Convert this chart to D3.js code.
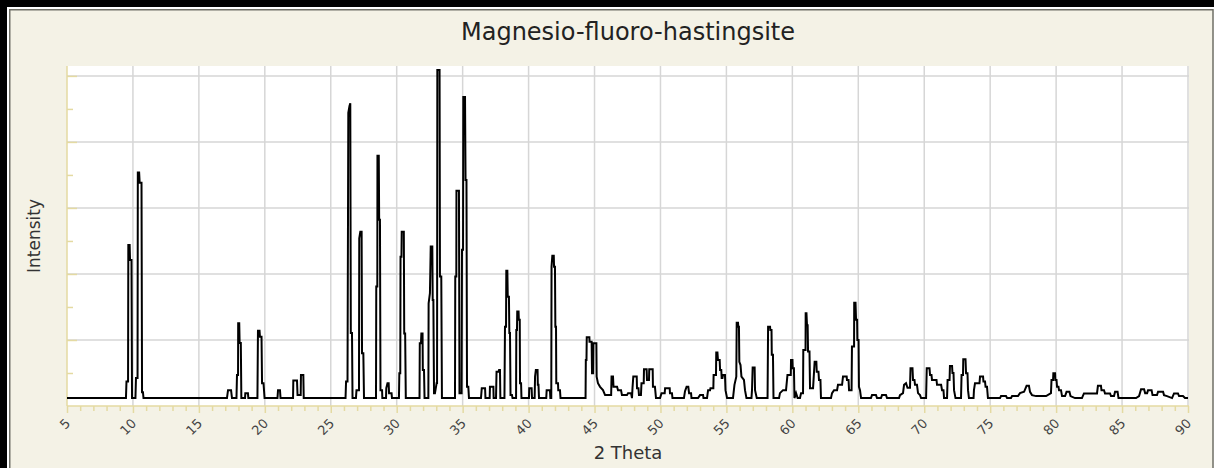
<!DOCTYPE html>
<html>
<head>
<meta charset="utf-8">
<script src="https://cdn.jsdelivr.net/npm/d3@7/dist/d3.min.js"></script>
<style>
  html, body { margin: 0; padding: 0; background: #000; }
  svg { display: block; }
  text { font-family: "DejaVu Sans", Verdana, sans-serif; }
</style>
</head>
<body>
<svg id="chart" width="1214" height="468"></svg>
<script>
// ---- data ----
const chartTitle = "Magnesio-fluoro-hastingsite";
const xAxisTitle = "2 Theta";
const yAxisTitle = "Intensity";
const xTickLabels = [5,10,15,20,25,30,35,40,45,50,55,60,65,70,75,80,85,90];

const twoTheta = [
5.00,9.47,9.51,9.63,9.65,9.75,9.78,9.89,9.93,10.19,10.23,10.35,10.37,10.47,10.51,10.65,10.69,10.76,10.80,
17.13,17.21,17.44,17.51,17.85,17.89,17.97,17.98,18.06,18.09,18.18,18.22,18.50,18.52,18.72,18.75,
19.44,19.48,19.60,19.63,19.75,19.79,19.90,19.98,20.96,21.00,21.15,21.19,22.14,22.16,22.44,22.48,22.72,22.74,22.92,22.95,
26.12,26.16,26.27,26.33,26.42,26.48,26.52,26.61,26.65,26.91,26.95,27.14,27.16,27.24,27.34,27.37,27.47,27.52,
28.43,28.45,28.53,28.54,28.64,28.67,28.73,28.77,28.89,28.91,29.19,29.21,29.30,29.39,29.42,29.61,29.64,
30.17,30.20,30.27,30.29,30.36,30.38,30.54,30.57,30.64,30.69,31.73,31.75,31.84,31.87,31.96,31.98,32.07,32.11,
32.40,32.42,32.52,32.58,32.70,32.73,32.78,32.83,32.90,33.03,33.06,33.08,33.25,33.28,33.38,33.43,
34.42,34.44,34.52,34.53,34.72,34.76,34.92,34.95,35.03,35.05,35.18,35.22,35.29,35.33,35.43,35.48,
36.39,36.45,36.70,36.73,37.05,37.07,37.33,37.35,37.53,37.57,37.72,37.76,37.83,37.86,
38.17,38.21,38.29,38.31,38.39,38.42,38.51,38.54,38.59,38.63,38.74,38.78,
39.05,39.07,39.12,39.14,39.24,39.26,39.33,39.35,39.43,39.46,40.03,40.05,40.23,40.26,
40.46,40.49,40.55,40.68,40.70,40.75,40.79,41.34,41.37,41.62,41.65,
41.72,41.74,41.80,41.91,41.93,42.00,42.03,42.08,42.10,42.23,42.25,42.38,42.42,
44.32,44.34,44.39,44.41,44.61,44.62,44.78,44.81,44.89,44.91,45.14,45.16,45.26,45.42,45.64,45.80,
46.26,46.29,46.40,46.44,46.71,46.78,47.01,47.08,47.46,47.54,47.77,47.84,47.88,47.94,48.20,48.22,48.33,48.37,48.52,
48.56,48.73,48.75,48.95,48.98,49.13,49.15,49.41,49.43,49.58,49.66,
49.97,50.08,50.32,50.35,50.70,50.72,50.87,50.91,51.78,51.86,51.98,52.11,52.17,52.32,52.35,52.85,53.00,53.23,53.26,
53.53,53.61,53.76,53.79,54.01,54.03,54.21,54.23,54.32,54.36,54.49,54.52,54.61,54.64,54.70,54.74,54.89,54.93,55.05,
55.50,55.61,55.75,55.78,55.88,55.90,55.95,55.98,56.07,56.14,56.33,56.41,56.52,
56.90,56.94,56.99,57.14,57.17,57.30,58.12,58.16,58.31,58.33,58.42,58.44,58.53,58.57,
58.99,59.06,59.29,59.52,59.63,59.88,59.90,60.01,60.03,60.12,60.16,60.28,60.40,
60.58,60.66,60.81,60.83,61.00,61.01,61.07,61.11,61.16,61.19,61.30,61.34,61.57,61.69,61.82,61.85,61.98,62.02,62.13,62.17,
62.93,63.01,63.16,63.39,63.46,63.77,63.84,64.12,64.14,64.26,64.30,64.49,
64.52,64.68,64.69,64.79,64.83,64.91,64.93,65.02,65.05,65.13,65.21,
65.96,66.04,66.34,66.42,66.72,66.80,67.10,67.18,
68.09,68.16,68.39,68.47,68.62,68.73,68.92,68.96,69.11,69.15,69.26,69.30,69.45,69.53,69.68,69.76,
70.14,70.19,70.40,70.44,70.55,70.59,70.93,70.97,71.28,71.35,71.46,71.50,
71.73,71.77,71.92,71.95,72.11,72.14,72.22,72.26,72.37,72.79,72.83,72.94,72.96,73.13,73.17,73.28,73.32,73.39,
73.74,73.77,73.85,74.19,74.23,74.46,74.49,74.61,74.65,74.76,74.83,
75.75,75.82,76.20,76.28,76.58,76.66,77.11,77.26,77.57,77.76,77.94,78.02,78.17,78.48,79.24,
79.61,79.65,79.77,79.79,79.92,79.94,80.03,80.07,80.18,80.22,80.37,80.45,80.68,80.79,81.01,81.09,81.43,
81.96,82.11,83.10,83.17,83.40,83.44,83.63,83.71,84.09,84.16,84.39,84.47,84.66,84.73,
86.06,86.29,86.44,86.67,86.75,86.90,86.97,87.24,87.31,87.65,87.73,88.11,88.18,88.41,88.79,88.94,89.24,89.32,89.62,89.77,90.00
];

const intensity = [
2.4,2.4,7.4,7.4,48.8,48.8,44.2,44.2,2.4,2.4,8.5,8.5,70.7,70.7,67.6,67.6,4.2,4.2,2.4,
2.4,4.8,4.8,2.4,2.4,9.4,9.4,25.1,25.1,19.1,19.1,2.4,2.4,3.9,3.9,2.4,
2.4,22.8,22.8,21.0,21.0,6.9,6.9,2.4,2.4,4.8,4.8,2.4,2.4,7.7,7.7,3.3,3.3,9.4,9.4,2.4,
2.4,7.4,7.4,88.8,90.9,91.7,22.1,22.1,2.4,2.4,4.8,4.8,50.8,52.8,52.8,16.0,16.0,2.4,
2.4,36.2,36.2,75.8,75.8,56.4,56.4,4.8,4.8,2.4,2.4,5.4,6.9,6.9,3.9,3.9,2.4,
2.4,9.9,9.9,45.2,45.2,52.8,52.8,22.0,22.0,2.4,2.4,19.0,19.0,22.0,22.0,10.9,10.9,2.4,
2.4,31.1,34.2,48.3,48.3,32.1,32.1,3.9,3.9,7.0,7.0,101.8,101.8,39.2,39.2,2.4,
2.4,39.2,39.2,65.2,65.2,3.9,3.9,47.3,47.3,93.6,93.6,68.5,68.5,5.8,5.8,2.4,
2.4,5.4,5.4,2.4,2.4,5.8,5.8,2.4,2.4,10.4,10.4,10.9,10.9,2.4,
2.4,24.0,24.0,41.0,41.0,33.1,33.1,22.1,22.1,3.3,3.3,2.4,
2.4,23.0,23.0,28.6,28.6,26.1,26.1,6.9,6.9,2.4,2.4,5.4,5.4,2.4,
2.4,8.9,10.9,10.9,6.4,6.4,2.4,2.4,4.8,4.8,2.4,
2.4,42.2,45.5,45.5,42.2,42.2,24.0,24.0,6.9,6.9,4.8,4.8,2.4,
2.4,13.9,13.9,20.8,20.8,19.5,19.5,9.9,9.9,19.0,19.0,8.9,6.9,5.8,4.8,3.3,
3.3,8.9,8.9,5.8,5.8,4.8,4.8,3.3,3.3,3.9,3.9,2.4,5.5,8.9,8.9,5.4,5.4,3.3,3.3,
6.9,6.9,11.1,11.1,7.9,7.9,11.1,11.1,5.8,5.8,2.4,
2.4,3.9,3.9,5.4,5.4,3.9,3.9,2.4,2.4,4.5,5.8,5.8,3.9,3.9,2.4,2.4,3.3,3.3,2.4,
2.4,4.8,4.8,5.4,5.4,9.4,9.4,16.2,16.2,13.9,13.9,10.9,10.9,8.5,8.5,9.4,9.4,4.8,2.4,
2.4,6.4,8.9,25.2,25.2,24.0,24.0,13.4,12.4,8.9,7.9,4.8,2.4,
2.4,4.8,11.7,11.7,4.8,2.4,2.4,24.0,24.0,23.0,23.0,15.5,15.5,2.4,
2.4,3.9,4.8,4.8,9.4,9.4,13.9,13.9,11.4,11.4,2.4,3.9,2.4,
2.4,3.9,3.9,17.0,17.0,28.1,28.1,24.5,24.5,16.5,16.5,5.4,5.4,13.4,13.4,10.4,10.4,7.9,7.9,2.4,
2.4,3.9,4.8,4.8,6.4,6.4,8.9,8.9,7.9,7.9,4.8,4.8,
18.0,18.0,31.3,31.3,26.1,26.1,20.0,20.0,5.8,4.8,2.4,
2.4,3.3,3.3,2.4,2.4,3.3,3.3,2.4,
2.4,3.3,3.9,6.4,6.9,5.5,5.5,11.4,11.4,7.9,7.9,6.4,6.4,3.9,3.3,2.4,
2.4,11.4,11.4,9.4,9.4,7.9,7.9,6.4,6.4,4.8,4.8,2.4,
2.4,7.9,7.9,12.1,12.1,10.0,10.0,4.8,2.4,2.4,9.4,9.4,14.2,14.2,9.9,9.9,4.8,2.4,
2.4,4.8,6.9,6.9,8.9,8.9,7.4,7.4,5.8,5.8,2.4,
2.4,3.0,3.0,2.4,2.4,3.0,3.0,3.9,4.3,6.1,6.1,4.3,3.3,3.0,3.0,
3.9,7.9,7.9,9.9,9.9,7.9,7.9,5.8,5.8,4.8,4.8,3.0,3.0,4.3,4.3,3.0,2.4,
2.4,3.8,3.8,6.1,6.1,4.8,4.8,3.8,3.8,3.0,3.0,4.3,4.3,2.4,
2.4,3.0,5.1,5.1,3.9,3.9,4.8,4.8,3.3,3.3,4.3,4.3,3.3,3.0,2.4,3.8,3.8,3.0,3.0,2.4,2.4
];

// ---- layout ----
const W = 1214, H = 468;
const plot = { left: 67, right: 1189, top: 66, bottom: 406 };
const svg = d3.select("#chart");

// window frame
svg.append("rect").attr("x", 7).attr("y", 7).attr("width", W - 7).attr("height", H - 7).attr("fill", "#ffffff");
svg.append("rect").attr("x", 9.75).attr("y", 9.75).attr("width", W - 9.75 - 1).attr("height", H)
  .attr("fill", "#f4f2e6").attr("stroke", "#6f6f66").attr("stroke-width", 1.5);

// plot background
svg.append("rect").attr("x", plot.left).attr("y", plot.top)
  .attr("width", plot.right - plot.left).attr("height", plot.bottom - plot.top).attr("fill", "#ffffff");

const x = d3.scaleLinear().domain([5, 90]).range([plot.left, plot.right - 1]);
const y = d3.scaleLinear().domain([0, 103]).range([plot.bottom, plot.top]);

const grid = svg.append("g").attr("stroke", "#d6d6d6").attr("stroke-width", 1.5);
grid.selectAll("line.v").data(d3.range(10, 91, 5)).join("line")
  .attr("x1", d => x(d)).attr("x2", d => x(d)).attr("y1", plot.top).attr("y2", plot.bottom);
grid.selectAll("line.h").data(d3.range(20, 101, 20)).join("line")
  .attr("x1", plot.left).attr("x2", plot.right).attr("y1", d => y(d)).attr("y2", d => y(d));

// y axis (ticks inside, no labels)
const axisColor = "#e4daa2";
const yAx = svg.append("g").attr("transform", `translate(${plot.left},0)`)
  .call(d3.axisRight(y).tickValues(d3.range(10, 101, 10)).tickSize(6).tickFormat(""));
yAx.select(".domain").attr("stroke", axisColor).attr("stroke-width", 1.5).attr("d", `M0,${plot.top}V${plot.bottom}`);
yAx.selectAll(".tick line").attr("stroke", axisColor).attr("stroke-width", 1.5)
  .attr("x2", d => (d % 20 === 0 ? 10 : 6));

// x axis
const xAx = svg.append("g").attr("transform", `translate(0,${plot.bottom})`)
  .call(d3.axisBottom(x).tickValues(d3.range(5, 91, 1)).tickSize(5).tickFormat(""));
xAx.select(".domain").attr("stroke", axisColor).attr("stroke-width", 1.5).attr("d", `M${plot.left},0H${plot.right}`);
xAx.selectAll(".tick line").attr("stroke", axisColor).attr("stroke-width", 1.5)
  .attr("y2", d => (d % 5 === 0 ? 7 : 5));

// rotated x tick labels
svg.append("g").selectAll("text").data(xTickLabels).join("text")
  .attr("transform", d => `translate(${x(d) + 1},${plot.bottom + 15}) rotate(-45)`)
  .attr("text-anchor", "end").attr("dy", "0.35em")
  .attr("font-size", 13).attr("fill", "#444")
  .text(d => d);

// data line
const line = d3.line().x((d, i) => x(twoTheta[i])).y((d, i) => y(intensity[i]));
svg.append("path").datum(intensity).attr("d", line)
  .attr("fill", "none").attr("stroke", "#000").attr("stroke-width", 2).attr("stroke-linejoin", "miter");

// titles
svg.append("text").attr("x", (plot.left + plot.right) / 2).attr("y", 40)
  .attr("text-anchor", "middle").attr("font-size", 24).attr("fill", "#222").text(chartTitle);
svg.append("text").attr("x", (plot.left + plot.right) / 2).attr("y", 459)
  .attr("text-anchor", "middle").attr("font-size", 18).attr("fill", "#333").text(xAxisTitle);
svg.append("text").attr("transform", `translate(40,${(plot.top + plot.bottom) / 2}) rotate(-90)`)
  .attr("text-anchor", "middle").attr("font-size", 17).attr("fill", "#333").text(yAxisTitle);
</script>
</body>
</html>
